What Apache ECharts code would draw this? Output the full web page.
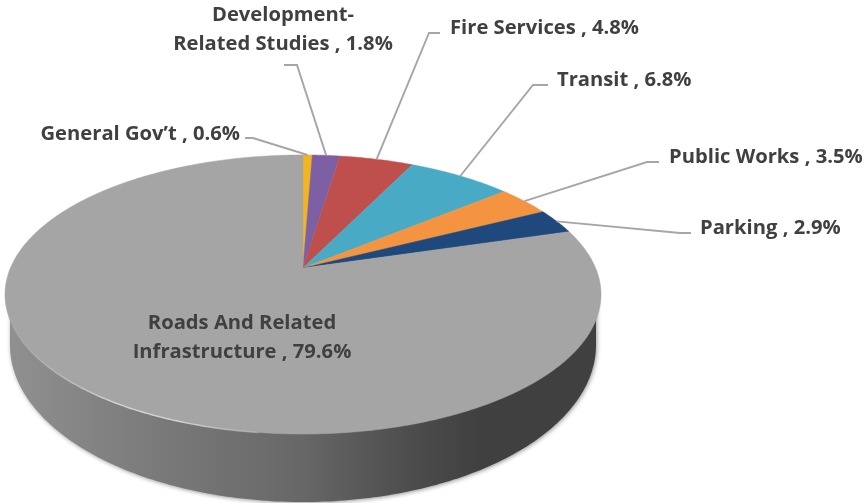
<!DOCTYPE html>
<html>
<head>
<meta charset="utf-8">
<style>html,body{margin:0;padding:0;background:#fff}#chart{width:865px;height:503px}</style>
<script src="https://cdn.jsdelivr.net/npm/echarts@6/dist/echarts.min.js"></script>
</head>
<body>
<div id="chart"></div>
<script>
// Budget shares, clockwise from twelve o'clock
const categories = ["General Gov\u2019t", "Development-\nRelated Studies", "Fire Services", "Transit", "Public Works", "Parking", "Roads And Related\nInfrastructure"];
const shares = [0.6, 1.8, 4.8, 6.8, 3.5, 2.9, 79.6];
const sliceColors = ["#f3b51d", "#7d5fa3", "#bf4f4c", "#48aac4", "#f59440", "#1f497d", "#a5a5a5"];

// Label placement: text anchor [x, y, align], then the elbow and end of each leader line
const labelAnchors = [[240, 134, "right"], [283, 30, "center"], [450, 28, "left"], [557, 80, "left"], [669, 157, "left"], [700, 228, "left"], [242, 338, "center"]];
const leaderBends = [[[253, 138], [245, 138]], [[297, 65], [284, 65]], [[429, 33], [440, 33]], [[533, 85], [548, 85]], [[647, 162], [659, 162]], [[680, 233], [691, 233]], null];

// Tilted disc: a unit circle seen in perspective, so the hub sits above the ellipse centre
const disc = { cx: 303, cy: 268, rx: 292.6, ry: 134.5, k: 0.19 };
// Lower rim of the drum
const base = { cx: 303, cy: 345, rx: 293, ry: 157 };

const total = shares.reduce((a, b) => a + b, 0);
const starts = shares.map((_, i) => shares.slice(0, i).reduce((a, b) => a + b, 0));

function rimPoint(pct) {
  const t = pct / total * 2 * Math.PI;
  const u = Math.sin(t), v = Math.cos(t), w = 1 + disc.k * v;
  return [disc.cx + disc.rx * u / w, disc.cy - disc.ry * v / w];
}

function arcPoints(from, to) {
  const pts = [];
  const steps = Math.max(2, Math.ceil((to - from) * 8));
  for (let i = 0; i <= steps; i++) pts.push(rimPoint(from + (to - from) * i / steps));
  return pts;
}

function renderDrum() {
  const pts = [];
  for (let d = 0; d <= 180; d += 1) {
    const a = d * Math.PI / 180;
    pts.push([base.cx + base.rx * Math.cos(a), base.cy + base.ry * Math.sin(a)]);
  }
  pts.push([base.cx - base.rx, 296], [base.cx + base.rx, 296]);
  return {
    type: "polygon",
    shape: { points: pts },
    style: {
      fill: {
        type: "linear", x: 0, y: 0, x2: 1, y2: 0,
        colorStops: [
          { offset: 0, color: "#909090" },
          { offset: 0.2, color: "#7e7e7e" },
          { offset: 0.5, color: "#676767" },
          { offset: 0.68, color: "#4d4d4d" },
          { offset: 0.8, color: "#404040" },
          { offset: 1, color: "#404040" }
        ]
      },
      shadowColor: "rgba(0,0,0,0.4)",
      shadowBlur: 4,
      shadowOffsetX: 1,
      shadowOffsetY: 1
    }
  };
}

function renderSlice(params, api) {
  const i = params.dataIndex;
  const from = starts[i], to = from + api.value(0);
  const color = sliceColors[i];
  return {
    type: "polygon",
    shape: { points: [[disc.cx, disc.cy]].concat(arcPoints(from, to)) },
    style: { fill: color, stroke: color, lineWidth: 0.5 }
  };
}

// Pale highlight along the near-left edge of the disc
function renderRim() {
  return {
    type: "polyline",
    shape: { points: arcPoints(52, 76) },
    style: {
      fill: "none",
      lineWidth: 1.5,
      stroke: {
        type: "linear", x: 0, y: 0, x2: 1, y2: 0,
        colorStops: [
          { offset: 0, color: "rgba(215,215,215,0)" },
          { offset: 0.45, color: "rgba(215,215,215,0.9)" },
          { offset: 0.7, color: "rgba(215,215,215,0.9)" },
          { offset: 1, color: "rgba(190,190,190,0.5)" }
        ]
      }
    }
  };
}

function renderLabel(params, api) {
  const i = params.dataIndex;
  const value = api.value(0);
  const anchor = labelAnchors[i];
  const children = [];
  if (leaderBends[i]) {
    const start = rimPoint(starts[i] + value / 2);
    children.push({
      type: "polyline",
      shape: { points: [start].concat(leaderBends[i]) },
      style: { fill: "none", stroke: "#a6a6a6", lineWidth: 1.9 }
    });
  }
  children.push({
    type: "text",
    style: {
      x: anchor[0],
      y: anchor[1],
      text: categories[i] + " , " + value.toFixed(1) + "%",
      align: anchor[2],
      verticalAlign: "middle",
      fill: "#404040",
      font: "700 20.2px 'Open Sans'",
      lineHeight: 29
    }
  });
  return { type: "group", children };
}

const chart = echarts.init(document.getElementById("chart"), null, { renderer: "canvas" });
chart.setOption({
  animation: false,
  backgroundColor: "#fff",
  series: [
    { type: "custom", coordinateSystem: "none", silent: true, z: 1, data: [shares[6]], renderItem: renderDrum },
    { type: "custom", coordinateSystem: "none", silent: true, z: 2, data: shares, renderItem: renderSlice },
    { type: "custom", coordinateSystem: "none", silent: true, z: 3, data: [shares[6]], renderItem: renderRim },
    { type: "custom", coordinateSystem: "none", silent: true, z: 4, data: shares, renderItem: renderLabel }
  ]
});
</script>
</body>
</html>
